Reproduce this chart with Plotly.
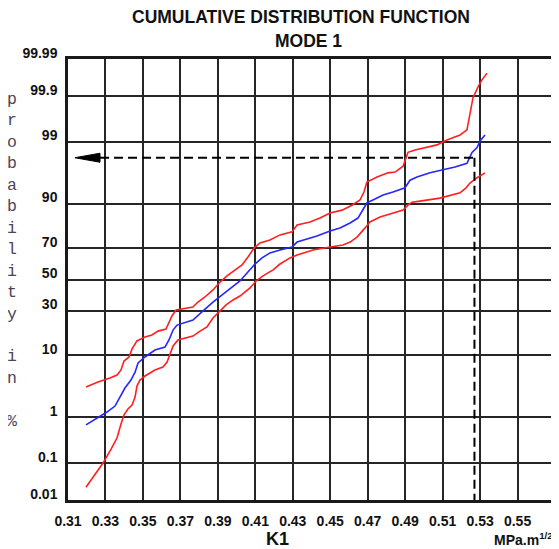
"""
Cumulative distribution function of K1 (mode 1) on normal probability paper
"""

import plotly.graph_objects as go
from statistics import NormalDist

# K1 (MPa.m^1/2) and cumulative probability (%)
k1_median = [0.3196, 0.3255, 0.3308, 0.3351, 0.3383, 0.3404, 0.3436, 0.3458, 0.3474, 0.3511,
             0.3564, 0.3618, 0.3639, 0.3661, 0.3682, 0.3714, 0.3767, 0.3821, 0.3874, 0.3928,
             0.3981, 0.4018, 0.4056, 0.4098, 0.4136, 0.4178, 0.4232, 0.4296, 0.4323, 0.4376,
             0.4429, 0.4499, 0.4552, 0.4606, 0.4648, 0.4680, 0.4696, 0.4728, 0.4782, 0.4835,
             0.4899, 0.4926, 0.4963, 0.5033, 0.5102, 0.5166, 0.5230, 0.5246, 0.5257, 0.5284,
             0.5300, 0.5326]
p_median = [0.71, 0.97, 1.27, 1.64, 2.47, 3.36, 4.5, 5.9, 7.96, 9.56,
            11.7, 12.7, 15.4, 19.7, 22.1, 23.2, 24.7, 29.8, 35.2, 40.3,
            45.6, 49.0, 54.4, 60.3, 64.2, 67.3, 69.1, 70.8, 73.6, 75.3,
            76.8, 79.3, 80.8, 83.0, 85.0, 88.6, 90.2, 91.0, 92.3, 93.0,
            93.9, 95.3, 95.8, 96.4, 96.8, 97.1, 97.5, 98.0, 98.4, 98.7,
            99.03, 99.26]

k1_upper = [0.3196, 0.3260, 0.3324, 0.3362, 0.3383, 0.3399, 0.3426, 0.3442, 0.3468, 0.3511,
            0.3548, 0.3581, 0.3623, 0.3639, 0.3655, 0.3677, 0.3725, 0.3767, 0.3794, 0.3831,
            0.3874, 0.3912, 0.3949, 0.3992, 0.4029, 0.4061, 0.4093, 0.4125, 0.4178, 0.4232,
            0.4296, 0.4323, 0.4392, 0.4445, 0.4499, 0.4563, 0.4616, 0.4659, 0.4680, 0.4696,
            0.4750, 0.4808, 0.4846, 0.4889, 0.4915, 0.4953, 0.4995, 0.5070, 0.5123, 0.5193,
            0.5230, 0.5246, 0.5262, 0.5289, 0.5310, 0.5337]
p_upper = [3.49, 4.19, 4.84, 5.36, 6.35, 8.46, 9.56, 12.1, 15.0, 16.6,
           17.5, 19.2, 20.2, 23.7, 26.9, 30.3, 31.5, 32.1, 35.2, 38.4,
           43.0, 48.3, 52.4, 56.4, 59.7, 64.8, 70.2, 73.1, 74.7, 77.4,
           78.9, 82.1, 83.4, 85.0, 86.9, 87.9, 89.5, 91.0, 93.0, 95.0,
           95.8, 96.4, 96.5, 97.2, 98.4, 98.55, 98.67, 98.84, 99.07, 99.26,
           99.42, 99.72, 99.89, 99.942, 99.962, 99.975]

k1_lower = [0.3196, 0.3244, 0.3287, 0.3330, 0.3362, 0.3383, 0.3399, 0.3420, 0.3442, 0.3458,
            0.3468, 0.3484, 0.3511, 0.3538, 0.3564, 0.3607, 0.3629, 0.3645, 0.3661, 0.3687,
            0.3730, 0.3767, 0.3805, 0.3842, 0.3874, 0.3912, 0.3944, 0.3981, 0.4018, 0.4072,
            0.4104, 0.4141, 0.4195, 0.4232, 0.4285, 0.4323, 0.4408, 0.4499, 0.4568, 0.4606,
            0.4643, 0.4686, 0.4712, 0.4766, 0.4835, 0.4889, 0.4915, 0.4937, 0.4979, 0.5086,
            0.5193, 0.5225, 0.5246, 0.5284, 0.5326]
p_lower = [0.023, 0.049, 0.098, 0.21, 0.38, 0.74, 1.12, 1.45, 1.71, 2.37,
           3.62, 4.5, 5.18, 5.74, 6.35, 7.0, 8.21, 10.45, 13.1, 15.4,
           16.2, 17.0, 19.2, 21.2, 25.8, 29.8, 33.4, 36.5, 39.0, 44.3,
           49.0, 52.4, 56.4, 60.3, 64.2, 66.0, 69.1, 70.8, 72.0, 73.6,
           76.3, 80.8, 83.4, 85.4, 86.9, 87.9, 89.5, 90.4, 90.7, 91.5,
           92.8, 93.9, 94.8, 95.7, 96.4]

prob_ticks = [0.01, 0.1, 1, 10, 30, 50, 70, 90, 99, 99.9, 99.99]
prob_labels = ["0.01", "0.1", "1", "10", "30", "50", "70", "90", "99", "99.9", "99.99"]
k1_ticks = [0.31, 0.33, 0.35, 0.37, 0.39, 0.41, 0.43, 0.45, 0.47, 0.49, 0.51, 0.53, 0.55]
k1_labels = ["0.31", "0.33", "0.35", "0.37", "0.39", "0.41", "0.43", "0.45", "0.47",
             "0.49", "0.51", "0.53", "0.55"]
k1_range = [0.31, 0.57]

# reading marked with the dashed arrow
mark_k1 = 0.527
mark_p = 98
arrow_tip_k1 = 0.3137
arrow_base_k1 = 0.3271

nd = NormalDist()


def probit(p):
    """Percent -> standard normal quantile (probability paper scale)"""
    return nd.inv_cdf(p / 100.0)


FONT = "Liberation Sans, Arial, sans-serif"

fig = go.Figure()

fig.add_trace(go.Scatter(x=k1_lower, y=[probit(p) for p in p_lower], mode="lines",
                         line=dict(color="#ff1f1f", width=1.6), showlegend=False))
fig.add_trace(go.Scatter(x=k1_upper, y=[probit(p) for p in p_upper], mode="lines",
                         line=dict(color="#ff1f1f", width=1.6), showlegend=False))
fig.add_trace(go.Scatter(x=k1_median, y=[probit(p) for p in p_median], mode="lines",
                         line=dict(color="#2626ff", width=1.6), showlegend=False))

# dashed reading lines + arrow head
y_mark = probit(mark_p)
y_bottom = probit(prob_ticks[0])
head = 0.076
fig.add_shape(type="line", x0=arrow_base_k1, x1=mark_k1, y0=y_mark, y1=y_mark,
              line=dict(color="black", width=2, dash="9px,5px"))
fig.add_shape(type="line", x0=mark_k1, x1=mark_k1, y0=y_mark, y1=y_bottom,
              line=dict(color="black", width=2, dash="9px,5px"))
fig.add_shape(type="path",
              path=f"M {arrow_tip_k1},{y_mark} L {arrow_base_k1},{y_mark + head} "
                   f"L {arrow_base_k1},{y_mark - head} Z",
              fillcolor="black", line=dict(color="black", width=1))

# titles and axis labels (paper coords, anchored explicitly)
label_font = dict(family=FONT, color="#111", weight="bold")
fig.add_annotation(text="CUMULATIVE DISTRIBUTION FUNCTION", xref="paper", yref="paper",
                   x=0.478, y=1.0952, xanchor="center", yanchor="middle", showarrow=False,
                   font=dict(label_font, size=17.5))
fig.add_annotation(text="MODE 1", xref="paper", yref="paper",
                   x=0.494, y=1.0408, xanchor="center", yanchor="middle", showarrow=False,
                   font=dict(label_font, size=17.5))
fig.add_annotation(text="K1", xref="paper", yref="paper",
                   x=0.431, y=-0.0884, xanchor="center", yanchor="middle", showarrow=False,
                   font=dict(label_font, size=18))
fig.add_annotation(text="MPa.m<sup>1/2</sup>", xref="paper", yref="paper",
                   x=0.8706, y=-0.089, xanchor="left", yanchor="middle", showarrow=False,
                   font=dict(label_font, size=14))
fig.add_annotation(text="<br>".join(list("probability") + [" ", "i", "n", " ", "%"]),
                   xref="paper", yref="paper", x=-0.115, y=0.542,
                   xanchor="center", yanchor="middle", showarrow=False,
                   font=dict(family="Liberation Mono, Courier New, monospace", size=16.5,
                             color="#4a4458"))

fig.update_xaxes(range=k1_range, tickvals=k1_ticks, ticktext=k1_labels,
                 showgrid=True, gridcolor="#262626", gridwidth=2.2,
                 showline=True, mirror=True, linecolor="#1a1a1a", linewidth=2.5,
                 ticks="", ticklabelstandoff=6, zeroline=False, automargin=False,
                 tickfont=dict(family=FONT, size=14, color="#111", weight="bold"))
fig.update_yaxes(range=[probit(prob_ticks[0]), probit(prob_ticks[-1])],
                 tickvals=[probit(p) for p in prob_ticks], ticktext=prob_labels,
                 showgrid=True, gridcolor="#262626", gridwidth=2.2,
                 showline=True, mirror=True, linecolor="#1a1a1a", linewidth=2.5,
                 ticks="", ticklabelstandoff=5, ticklabelshift=-6, zeroline=False,
                 automargin=False,
                 tickfont=dict(family=FONT, size=14, color="#111", weight="bold"))

# page body adds an 8px margin, so the figure is 8px smaller than the window
fig.update_layout(
    width=551, height=541,
    margin=dict(l=60, r=4, t=51, b=49, autoexpand=False),
    plot_bgcolor="white",
    paper_bgcolor="white",
    showlegend=False,
)

fig.write_html("out.html")
